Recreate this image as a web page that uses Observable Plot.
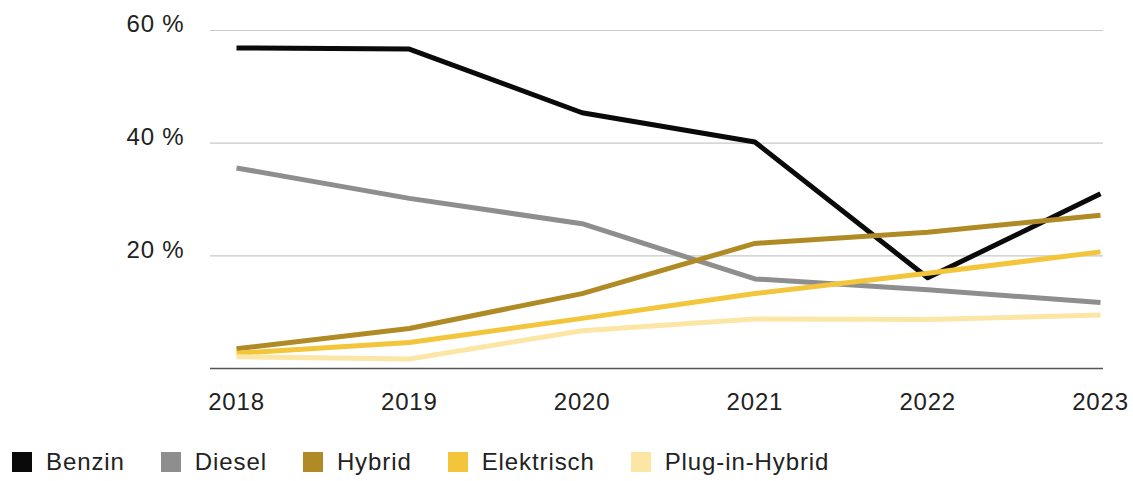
<!DOCTYPE html>
<html>
<head>
<meta charset="utf-8">
<script src="https://cdn.jsdelivr.net/npm/d3@7"></script>
<script src="https://cdn.jsdelivr.net/npm/@observablehq/plot@0.6"></script>
<style>
  html, body { margin: 0; padding: 0; background: #fff; }
  body { width: 1133px; height: 481px; overflow: hidden; font-family: "Liberation Sans", Arial, sans-serif; }
  #chart svg { overflow: visible; }
  #legend { display: flex; align-items: center; margin-left: 12px; margin-top: 27px; height: 20px; line-height: 20px; font-size: 24px; letter-spacing: 0.9px; color: #222; }
  .item { display: flex; align-items: center; margin-right: 36px; }
  .sw { width: 20px; height: 20px; margin-right: 14px; }
</style>
</head>
<body>
<div id="chart"></div>
<div id="legend"></div>
<script>
const years = [2018, 2019, 2020, 2021, 2022, 2023];
const benzin = [56.9, 56.7, 45.4, 40.2, 16.1, 31.0];
const diesel = [35.6, 30.2, 25.7, 15.9, 14.0, 11.7];
const hybrid = [3.5, 7.1, 13.3, 22.2, 24.2, 27.2];
const elektrisch = [2.7, 4.6, 8.9, 13.3, 16.9, 20.7];
const plugin = [2.1, 1.7, 6.7, 8.8, 8.7, 9.5];
const seriesNames = ["Benzin", "Diesel", "Hybrid", "Elektrisch", "Plug-in-Hybrid"];
const seriesColors = ["#0a0a0a", "#8e8e8e", "#b08a24", "#f2c53a", "#fbe6a6"];
const yTicks = [0, 20, 40, 60];

const allValues = [benzin, diesel, hybrid, elektrisch, plugin];
const data = [];
seriesNames.forEach((name, i) => {
  years.forEach((yr, j) => data.push({ series: name, year: yr, value: allValues[i][j] }));
});

const chart = Plot.plot({
  width: 1133,
  height: 425,
  marginTop: 30,
  marginBottom: 57,
  marginLeft: 210,
  marginRight: 30,
  style: { fontFamily: "Liberation Sans, Arial, sans-serif", fontSize: "24px", color: "#222", letterSpacing: "0.8px" },
  x: { domain: [2018, 2023], insetLeft: 26, insetRight: 3 },
  y: { domain: [0, 60] },
  color: { domain: seriesNames, range: seriesColors },
  marks: [
    Plot.ruleY(yTicks.filter(d => d > 0), { stroke: "#c8c8c8", strokeWidth: 1.2 }),
    Plot.ruleY([0], { stroke: "#555", strokeWidth: 1.3 }),
    Plot.axisY(yTicks.filter(d => d > 0), { tickSize: 0, tickPadding: 26, tickFormat: d => d + " %", dy: -6, fontSize: 24, label: null }),
    Plot.axisX(years, { tickSize: 0, tickPadding: 24, tickFormat: d => String(d), fontSize: 24, label: null }),
    Plot.line(data, { x: "year", y: "value", z: "series", stroke: "series", strokeWidth: 5, strokeLinejoin: "round", strokeLinecap: "butt" })
  ]
});
document.getElementById("chart").appendChild(chart);

const legend = document.getElementById("legend");
seriesNames.forEach((name, i) => {
  const item = document.createElement("div");
  item.className = "item";
  const sw = document.createElement("div");
  sw.className = "sw";
  sw.style.background = seriesColors[i];
  const label = document.createElement("span");
  label.textContent = name;
  item.appendChild(sw);
  item.appendChild(label);
  legend.appendChild(item);
});
</script>
</body>
</html>
